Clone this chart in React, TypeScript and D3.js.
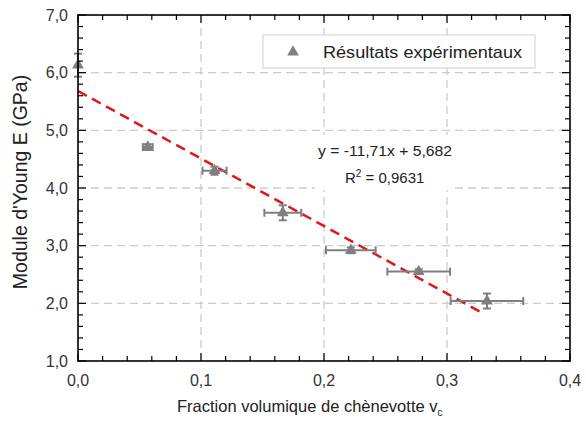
import React from "react";
import * as d3 from "d3";

const vcValues = [0.0, 0.0567, 0.111, 0.1665, 0.2218, 0.277, 0.3325];
const youngValues = [6.13, 4.71, 4.3, 3.57, 2.92, 2.55, 2.04];
const vcErrors = [0.0, 0.004, 0.0098, 0.015, 0.0202, 0.0255, 0.0295];
const youngErrors = [0.2, 0.05, 0.07, 0.13, 0.05, 0.04, 0.13];
const slope = -11.71;
const intercept = 5.682;
const fitRange = [0, 0.329];
const xTicks = [0, 0.1, 0.2, 0.3, 0.4];
const yTicks = [1, 2, 3, 4, 5, 6, 7];
const legendLabel = "Résultats expérimentaux";
const eqLabel = "y = -11,71x + 5,682";
const r2Value = "0,9631";

const W = 586, H = 421;
const M = { left: 78, top: 15, right: 16, bottom: 60 };
const FONT = "'Liberation Sans', Arial, sans-serif";

export default function App() {
  const x = d3.scaleLinear().domain([0, 0.4]).range([M.left, W - M.right]);
  const y = d3.scaleLinear().domain([1, 7]).range([H - M.bottom, M.top]);
  const x0 = M.left, x1 = W - M.right, y0 = H - M.bottom, y1 = M.top;
  const fmt = (v: number) => v.toFixed(1).replace(".", ",");
  const xMinor = d3.range(0, 0.4001, 0.02);
  const yMinor = d3.range(1, 7.001, 0.2);
  const tri = d3.symbol().type(d3.symbolTriangle).size(60)();
  const line = d3.line<number>().x((v) => x(v)).y((v) => y(slope * v + intercept));
  const grey = "#7f7f7f";
  const cap = 4;

  return (
    <svg width={W} height={H} style={{ position: "absolute", left: 0, top: 0 }}>
      <rect x={0} y={0} width={W} height={H} fill="#fff" />
      {/* grid */}
      {xTicks.slice(1, -1).map((t) => (
        <line key={"gx" + t} x1={x(t)} x2={x(t)} y1={y0} y2={y1} stroke="#cccccc" strokeWidth={1.3} strokeDasharray="8,5" />
      ))}
      {yTicks.slice(1, -1).map((t) => (
        <line key={"gy" + t} x1={x0} x2={x1} y1={y(t)} y2={y(t)} stroke="#cccccc" strokeWidth={1.3} strokeDasharray="8,5" />
      ))}
      {/* equation box */}
      <rect x={315} y={135} width={139} height={55} fill="#fff" />
      <text x={318} y={156} fontFamily={FONT} fontSize={15} fill="#222" textLength={134} lengthAdjust="spacingAndGlyphs">{eqLabel}</text>
      <text x={345} y={183} fontFamily={FONT} fontSize={15} fill="#222">
        R<tspan dy={-6} fontSize={10}>2</tspan><tspan dy={6}> = {r2Value}</tspan>
      </text>
      {/* fit line */}
      <path d={line(fitRange) || ""} stroke="#e0161b" strokeWidth={2.5} strokeDasharray="10,6" fill="none" />
      {/* error bars */}
      {vcValues.map((v, i) => {
        const cx = x(v), cy = y(youngValues[i]);
        const xl = x(v - vcErrors[i]), xr = x(v + vcErrors[i]);
        const yt = y(youngValues[i] + youngErrors[i]), yb = y(youngValues[i] - youngErrors[i]);
        return (
          <g key={"e" + i} stroke={grey} strokeWidth={2} fill="none">
            {vcErrors[i] > 0 && (
              <>
                <line x1={xl} x2={xr} y1={cy} y2={cy} />
                <line x1={xl} x2={xl} y1={cy - cap} y2={cy + cap} />
                <line x1={xr} x2={xr} y1={cy - cap} y2={cy + cap} />
              </>
            )}
            <line x1={cx} x2={cx} y1={yt} y2={yb} />
            <line x1={cx - cap} x2={cx + cap} y1={yt} y2={yt} />
            <line x1={cx - cap} x2={cx + cap} y1={yb} y2={yb} />
          </g>
        );
      })}
      {vcValues.map((v, i) => (
        <path key={"p" + i} d={tri || ""} transform={`translate(${x(v)},${y(youngValues[i])})`} fill={grey} />
      ))}
      {/* legend */}
      <rect x={263} y={35} width={272} height={33} fill="#fff" stroke="#d0d0d0" strokeWidth={1} />
      <path d={tri || ""} transform="translate(293,52)" fill={grey} />
      <text x={323} y={58} fontFamily={FONT} fontSize={17} fill="#222" textLength={199} lengthAdjust="spacingAndGlyphs">{legendLabel}</text>
      {/* ticks */}
      {xMinor.map((t, i) => {
        const major = i % 5 === 0;
        const l = major ? 8 : 5;
        return (
          <g key={"xt" + i} stroke="#000" strokeWidth={1.2}>
            <line x1={x(t)} x2={x(t)} y1={y0} y2={y0 - l} />
            <line x1={x(t)} x2={x(t)} y1={y1} y2={y1 + l} />
          </g>
        );
      })}
      {yMinor.map((t, i) => {
        const major = i % 5 === 0;
        const l = major ? 8 : 5;
        return (
          <g key={"yt" + i} stroke="#000" strokeWidth={1.2}>
            <line x1={x0} x2={x0 + l} y1={y(t)} y2={y(t)} />
            <line x1={x1} x2={x1 - l} y1={y(t)} y2={y(t)} />
          </g>
        );
      })}
      <rect x={x0} y={y1} width={x1 - x0} height={y0 - y1} fill="none" stroke="#000" strokeWidth={1.6} />
      {/* tick labels */}
      {xTicks.map((t) => (
        <text key={"xl" + t} x={x(t)} y={386} textAnchor="middle" fontFamily={FONT} fontSize={16} fill="#333">{fmt(t)}</text>
      ))}
      {yTicks.map((t) => (
        <text key={"yl" + t} x={68} y={y(t) + 5.5} textAnchor="end" fontFamily={FONT} fontSize={16} fill="#333">{fmt(t)}</text>
      ))}
      {/* axis titles */}
      <text x={177} y={412} fontFamily={FONT} fontSize={16.5} fill="#222">
        Fraction volumique de chènevotte v<tspan dy={4} fontSize={10}>c</tspan>
      </text>
      <text transform={`translate(27,182) rotate(-90)`} textAnchor="middle" fontFamily={FONT} fontSize={19.5} fill="#222">
        Module d'Young E (GPa)
      </text>
    </svg>
  );
}
